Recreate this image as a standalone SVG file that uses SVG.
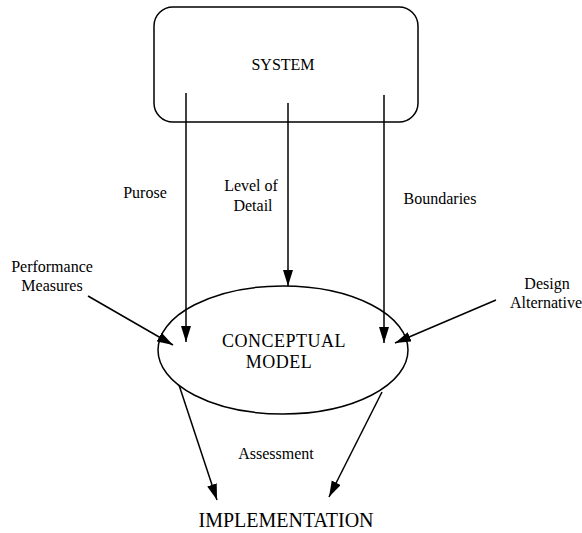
<svg xmlns="http://www.w3.org/2000/svg" width="582" height="533" viewBox="0 0 582 533" font-family="'Liberation Serif', 'Times New Roman', 'DejaVu Serif', serif">
  <style>
    text { font-family: "Liberation Serif", "Times New Roman", "DejaVu Serif", serif; fill: #000; text-anchor: middle; }
    .lbl { font-size: 16px; }
    .big { font-size: 18px; letter-spacing: 0.5px; }
    .impl { font-size: 20px; }
    .shape { fill: #fff; stroke: #000; stroke-width: 1.5; }
    .edge { fill: none; stroke: #000; stroke-width: 1.5; marker-end: url(#head); }
  </style>
  <defs>
    <marker id="head" markerUnits="userSpaceOnUse" markerWidth="17" markerHeight="11" refX="16" refY="5" orient="auto">
      <path d="M0,0 L16,5 L0,10 Z" fill="#000"/>
    </marker>
  </defs>
  <rect width="582" height="533" fill="#fff"/>

  <g id="system">
    <rect class="shape" x="154" y="7" width="264" height="115" rx="19" ry="19"/>
    <text class="lbl" x="283" y="70">SYSTEM</text>
  </g>

  <g id="conceptual-model">
    <ellipse class="shape" cx="283" cy="350" rx="125" ry="64"/>
    <text class="big" x="284" y="347">CONCEPTUAL</text>
    <text class="big" x="279" y="368">MODEL</text>
  </g>

  <g id="implementation">
    <text class="impl" x="286" y="527">IMPLEMENTATION</text>
  </g>

  <g id="connectors">
    <line class="edge" x1="186" y1="93" x2="186" y2="342"/>
    <line class="edge" x1="288" y1="103" x2="288" y2="286"/>
    <line class="edge" x1="384" y1="95" x2="384" y2="343"/>
    <line class="edge" x1="88" y1="296" x2="173" y2="345"/>
    <line class="edge" x1="496" y1="300" x2="395" y2="343"/>
    <line class="edge" x1="179" y1="385" x2="217" y2="500"/>
    <line class="edge" x1="382" y1="392" x2="329" y2="497"/>
  </g>

  <g id="labels">
    <text class="lbl" x="145" y="198">Purose</text>
    <text class="lbl" x="251" y="191">Level of</text>
    <text class="lbl" x="253" y="211">Detail</text>
    <text class="lbl" x="440" y="204">Boundaries</text>
    <text class="lbl" x="52" y="272">Performance</text>
    <text class="lbl" x="52" y="291">Measures</text>
    <text class="lbl" x="547" y="289">Design</text>
    <text class="lbl" x="546" y="308">Alternative</text>
    <text class="lbl" x="276" y="459">Assessment</text>
  </g>
</svg>
